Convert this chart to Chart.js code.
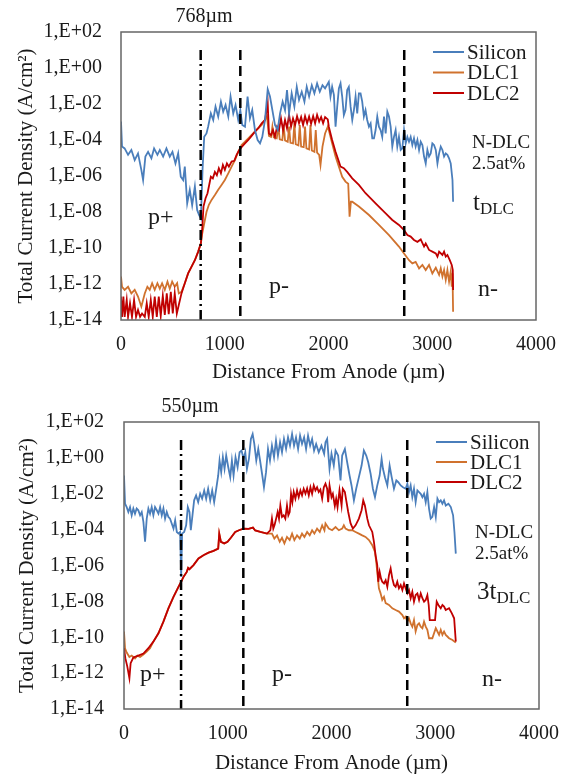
<!DOCTYPE html>
<html>
<head>
<meta charset="utf-8">
<script src="https://cdn.jsdelivr.net/npm/chart.js@4.4.1/dist/chart.umd.min.js"></script>
<style>
  html, body { margin: 0; padding: 0; background: #fff; }
  .panel { position: absolute; left: 0; width: 575px; }
  #topPanel { top: 0; height: 388px; }
  #bottomPanel { top: 390px; height: 387px; }
</style>
</head>
<body>
<div class="panel" id="topPanel"><canvas id="topChart" width="575" height="388"></canvas></div>
<div class="panel" id="bottomPanel"><canvas id="bottomChart" width="575" height="387"></canvas></div>
<script>
const FONT = "'Liberation Serif', 'Times New Roman', serif";

const xTicks = [0, 1000, 2000, 3000, 4000];
const yTicks = [1e2, 1e0, 1e-2, 1e-4, 1e-6, 1e-8, 1e-10, 1e-12, 1e-14];
const seriesNames = ['Silicon', 'DLC1', 'DLC2'];
const seriesColors = ['#4a7ebb', '#d0722e', '#c00000'];

// junction positions (µm): p+/p- (dash-dot), p- edge, n- edge
const topBoundaries = [768, 1150, 2730];
const bottomBoundaries = [550, 1150, 2730];

// [distance µm, current density A/cm2] — thickness t_DLC
const topSilicon = [
  [0,1.05e-3],[10,4.3e-5],[35,3.4e-5],[68,1.5e-5],[100,2.8e-5],[132,7.7e-6],[164,1.8e-5],[196,2.2e-6],[213,6e-7],[235,1.2e-5],
  [261,2.2e-5],[293,9.6e-6],[319,3.4e-5],[351,1.5e-5],[374,2.8e-5],[406,1.2e-5],[438,3.4e-5],[470,1.2e-5],[496,2.2e-5],[525,5e-6],
  [551,1.8e-5],[576,9.2e-7],[599,6e-7],[615,3.3e-6],[638,3e-8],[663,1.7e-7],[686,2.4e-8],[712,2.6e-7],[734,1.3e-8],[753,6.8e-9],
  [770,4.4e-9],[786,2.2e-6],[802,1.5e-4],[824,2.3e-4],[840,5.5e-4],[866,3e-3],[889,1.3e-3],[911,7.1e-3],[937,2e-3],[963,1.35e-2],
  [985,3.7e-3],[1008,8.8e-3],[1034,2e-3],[1056,2.6e-2],[1082,3e-3],[1104,8.8e-3],[1130,1.3e-3],[1150,4.6e-3],[1169,6.8e-4],[1195,5.5e-4],
  [1220,2.6e-2],[1243,1.6e-3],[1265,4.6e-3],[1291,3.6e-4],[1317,1e-4],[1340,6.5e-5],[1362,1.5e-4],[1388,1.3e-3],[1414,6.5e-2],[1436,2.6e-2],
  [1459,4.6e-3],[1484,6.8e-4],[1510,3.6e-4],[1533,3e-3],[1558,1.35e-2],[1581,4.6e-3],[1600,6e-2],[1620,3e-3],[1645,3.9e-2],[1671,7.1e-3],
  [1694,9e-2],[1716,1.7e-2],[1742,4.8e-2],[1768,1.35e-2],[1790,9e-2],[1813,2.6e-2],[1839,0.11],[1864,3.9e-2],[1890,0.14],[1916,4.8e-2],
  [1942,0.11],[1967,7.4e-2],[2003,0.17],[2019,2.6e-2],[2035,9e-2],[2052,3.2e-2],[2068,5.5e-4],[2084,7.1e-3],[2100,7.4e-2],[2116,0.14],
  [2132,2.6e-2],[2148,2.4e-3],[2164,4.6e-3],[2180,6e-2],[2196,9e-2],[2213,7.1e-3],[2229,1.3e-3],[2245,4.6e-3],[2261,2.6e-2],[2277,3e-3],
  [2293,3.9e-2],[2309,3.9e-2],[2325,1.35e-2],[2341,2e-3],[2357,4.6e-3],[2373,1.3e-3],[2390,5.5e-4],[2406,8.4e-4],[2422,1.24e-4],[2438,1.24e-4],
  [2454,3.6e-4],[2470,2e-3],[2486,5.5e-4],[2502,3.6e-4],[2518,1.5e-4],[2535,2e-3],[2551,2.3e-4],[2567,3.7e-3],[2583,2e-3],[2599,5.5e-4],
  [2615,4.3e-5],[2631,1.5e-4],[2647,3.6e-4],[2663,4.3e-5],[2679,1.5e-4],[2696,2.8e-5],[2712,3.4e-5],[2728,3.6e-4],[2744,6.5e-5],[2760,1.5e-4],
  [2776,8e-5],[2792,1.5e-4],[2808,5.3e-5],[2824,1.24e-4],[2840,4.3e-5],[2857,1e-4],[2873,2.8e-5],[2889,8e-5],[2905,5.3e-5],[2921,1.2e-5],
  [2937,5e-6],[2953,2.8e-5],[2969,1.2e-5],[2985,1.8e-5],[3001,6.5e-5],[3017,5.3e-5],[3034,2.8e-5],[3050,5e-6],[3066,1.8e-5],[3082,4.3e-5],
  [3098,2.8e-5],[3114,1.2e-5],[3130,1.8e-5],[3146,1.5e-5],[3162,9.6e-6],[3178,5e-6],[3195,6e-7],[3201,3.7e-8]
];

const topDlc1 = [
  [0,2.6e-12],[10,7e-13],[35,4.7e-13],[68,7e-13],[100,3e-13],[132,4.7e-13],[164,2e-13],[196,5.5e-14],[229,3e-13],[254,7e-13],
  [277,4.7e-13],[300,1.1e-12],[325,4.7e-13],[351,1.1e-12],[374,5.5e-13],[396,1.1e-12],[422,4.7e-13],[448,1.35e-12],[470,5.5e-13],[493,1.35e-12],
  [518,7e-13],[541,1.1e-12],[557,3e-13],[583,3.7e-13],[615,1.1e-12],[647,3.9e-12],[679,9e-12],[712,2.1e-11],[744,6.3e-11],[770,1.8e-10],
  [782,6e-10],[802,2.3e-9],[824,1e-8],[847,2.5e-8],[873,4.7e-8],[905,8.7e-8],[937,1.7e-7],[969,3.2e-7],[1001,6e-7],[1034,1.4e-6],
  [1066,3.3e-6],[1098,7.7e-6],[1130,2.2e-5],[1162,5.3e-5],[1195,8e-5],[1227,1.24e-4],[1259,1.9e-4],[1291,2.9e-4],[1323,4.5e-4],[1356,6.8e-4],
  [1388,1.3e-3],[1407,2.1e-3],[1426,1.7e-4],[1446,1.5e-4],[1459,5.5e-4],[1472,1.4e-4],[1501,1.24e-4],[1517,5.5e-4],[1530,1.1e-4],[1555,1e-4],
  [1568,6.8e-4],[1581,9.5e-5],[1607,8e-5],[1620,5.5e-4],[1633,7e-5],[1658,6.5e-5],[1671,8.5e-4],[1684,5.8e-5],[1710,5e-5],[1723,6.8e-4],
  [1736,4.3e-5],[1761,4e-5],[1774,5.5e-4],[1787,3.4e-5],[1813,3e-5],[1826,6.8e-4],[1839,2.6e-5],[1864,2.2e-5],[1877,3.6e-4],[1890,2e-5],
  [1910,1.5e-5],[1923,4.1e-6],[1942,4.3e-5],[1967,2.3e-4],[1993,5.5e-4],[2003,3.6e-4],[2035,6.5e-5],[2068,1.2e-5],[2100,3.3e-6],[2132,9.1e-7],
  [2164,4.9e-7],[2190,3.7e-7],[2203,5.5e-9],[2216,3.7e-8],[2229,3.7e-8],[2293,2e-8],[2390,6.8e-9],[2486,1.9e-9],[2583,5.2e-10],[2679,1.2e-10],
  [2728,5e-11],[2776,2.1e-11],[2808,1.4e-11],[2840,1.7e-11],[2873,7.4e-12],[2905,1.15e-11],[2937,6e-12],[2969,1.15e-11],[3001,3.9e-12],[3034,8e-12],
  [3066,3.2e-12],[3082,7.4e-12],[3098,2.6e-12],[3114,6e-12],[3130,1.7e-12],[3146,6e-12],[3162,1.35e-12],[3178,4.9e-12],[3188,7e-13],[3195,3.9e-12],
  [3201,2.9e-14]
];

const topDlc2 = [
  [0,2e-13],[10,1.5e-14],[23,2e-13],[35,1.5e-14],[55,1.3e-13],[68,1.5e-14],[87,8.5e-14],[106,1.5e-14],[126,1.3e-13],[145,1.5e-14],
  [164,3.6e-14],[184,1.5e-14],[203,2.3e-14],[229,1.5e-14],[248,8.5e-14],[267,1.5e-14],[287,1.3e-13],[306,1.5e-14],[325,2e-13],[345,1.5e-14],
  [364,2e-13],[383,1.7e-14],[403,2.2e-13],[422,1.9e-14],[441,3e-13],[460,2.1e-14],[480,3.7e-13],[499,2.3e-14],[518,3e-13],[538,2.3e-14],
  [557,6.8e-14],[583,3e-13],[615,1.1e-12],[647,3.9e-12],[679,9e-12],[712,2.1e-11],[744,6.3e-11],[770,1.8e-10],[782,1e-9],[795,2e-8],
  [815,5.8e-8],[834,1.1e-7],[847,2.6e-7],[866,9.1e-7],[885,7.4e-7],[905,1.7e-6],[924,1.1e-6],[943,2.7e-6],[963,1.4e-6],[982,4.1e-6],
  [1001,2.2e-6],[1021,5e-6],[1040,3.3e-6],[1066,6.3e-6],[1092,7e-6],[1114,1.5e-5],[1137,2.6e-5],[1162,4e-5],[1195,6.5e-5],[1227,1e-4],
  [1259,1.7e-4],[1291,2.9e-4],[1323,4.5e-4],[1356,8.5e-4],[1388,1.3e-3],[1414,1.1e-2],[1426,2.3e-4],[1446,1.9e-4],[1465,3.6e-4],[1484,1.5e-4],
  [1504,5.5e-4],[1523,3.6e-4],[1542,1.6e-3],[1562,3.6e-4],[1581,1.3e-3],[1600,4.5e-4],[1620,2.5e-3],[1639,5.5e-4],[1658,1.6e-3],[1678,6.8e-4],
  [1697,2.1e-3],[1716,8.5e-4],[1736,1.9e-3],[1755,6.8e-4],[1774,2.1e-3],[1794,8.5e-4],[1813,2e-3],[1832,8e-4],[1852,2.1e-3],[1871,8.5e-4],
  [1890,2.5e-3],[1910,1.05e-3],[1929,1.9e-3],[1948,8.5e-4],[1967,1.9e-3],[1993,1.4e-3],[2003,5.5e-4],[2035,1e-4],[2068,2.2e-5],[2100,6.3e-6],
  [2116,3.3e-6],[2148,2.7e-6],[2180,1.7e-6],[2229,7.4e-7],[2293,3.2e-7],[2357,1.1e-7],[2454,3e-8],[2551,8.5e-9],[2615,3.6e-9],[2679,1.9e-9],
  [2728,1e-9],[2760,5.2e-10],[2792,4.3e-10],[2824,2.8e-10],[2857,2.2e-10],[2889,3e-10],[2921,1.2e-10],[2937,1.8e-10],[2969,7.8e-11],[3001,6.3e-11],
  [3034,5e-11],[3050,3.3e-11],[3066,6.3e-11],[3098,4.1e-11],[3114,6.3e-11],[3130,3.3e-11],[3146,4.1e-11],[3169,2.1e-11],[3188,1.15e-11],[3198,6e-12],
  [3201,4.7e-13]
];

// thickness 3 t_DLC
const bottomSilicon = [
  [0,0.104],[10,2.8e-3],[26,1.8e-3],[42,9.6e-4],[58,1.8e-3],[74,6.3e-4],[90,1.5e-3],[106,7.7e-4],[122,1.5e-3],[138,1.2e-3],
  [155,6.3e-4],[171,9.6e-4],[187,2.7e-4],[203,2.1e-5],[219,4.1e-4],[235,1.5e-3],[251,7.7e-4],[267,1.8e-3],[283,6.3e-4],[299,1.8e-3],
  [316,1.2e-3],[332,7.7e-4],[348,1.8e-3],[364,6.3e-4],[380,1.5e-3],[396,4.1e-4],[412,9.6e-4],[428,5.1e-4],[444,4.1e-4],[460,2.2e-4],
  [477,1.14e-4],[493,3.3e-4],[509,7.4e-5],[525,6e-5],[541,7.4e-5],[551,2.3e-7],[560,6e-5],[580,7.4e-5],[599,1.74e-4],[615,1.8e-3],
  [631,9.6e-4],[644,9.2e-5],[660,6.3e-4],[676,4.3e-3],[695,8.1e-3],[715,3.4e-3],[734,1e-2],[753,5.3e-3],[773,1.53e-2],[792,5.3e-3],
  [811,1.9e-2],[831,4.3e-3],[850,1.53e-2],[869,3.4e-3],[889,1.9e-2],[908,0.104],[921,0.71],[937,0.16],[953,1.09],[969,0.245],
  [985,1.35],[1005,0.3],[1024,8.4e-2],[1040,0.71],[1056,0.104],[1075,1.09],[1095,0.3],[1114,2.06],[1133,2.55],[1153,0.88],
  [1169,2.06],[1185,0.245],[1204,0.88],[1223,11.4],[1240,21.5],[1256,6],[1275,0.71],[1294,3.16],[1314,0.57],[1333,0.104],
  [1349,2.3e-2],[1369,0.16],[1388,3.16],[1407,0.71],[1426,4.8],[1446,1.09],[1465,9.2],[1484,1.35],[1504,7.4],[1523,2.06],
  [1542,11.4],[1562,3.16],[1581,14],[1600,4.8],[1620,21.5],[1639,4.8],[1658,14],[1678,3.16],[1697,17.4],[1716,6],
  [1736,14],[1755,3.16],[1774,17.4],[1794,4.8],[1813,11.4],[1832,2.55],[1852,6],[1877,2.06],[1903,4.8],[1929,1.67],
  [1942,7.4],[1958,11.4],[1981,0.245],[2000,1.67],[2022,0.375],[2039,2.55],[2064,1.35],[2087,5.5e-2],[2103,1.35],[2129,3.16],
  [2151,0.57],[2174,0.104],[2193,2.9e-2],[2216,4.3e-3],[2238,1.9e-2],[2264,8.4e-2],[2290,0.375],[2312,2.55],[2335,1.35],[2354,0.57],
  [2377,0.13],[2399,1.9e-2],[2419,6.5e-3],[2441,2.9e-2],[2464,0.104],[2483,0.88],[2496,0.245],[2515,8.4e-2],[2538,2.9e-2],[2560,0.375],
  [2580,8.4e-2],[2602,1.9e-2],[2625,5.5e-2],[2644,4.4e-2],[2667,2.9e-2],[2689,2.3e-2],[2715,1.9e-2],[2731,3.6e-2],[2747,1.24e-2],[2763,2.9e-2],
  [2779,6.5e-3],[2795,1.9e-2],[2811,3.4e-3],[2828,1.53e-2],[2844,1.24e-2],[2860,1e-2],[2876,6.5e-3],[2892,1e-2],[2908,3.4e-3],[2924,1.24e-2],
  [2940,1.5e-3],[2956,4.1e-4],[2972,5.1e-4],[2989,1.8e-3],[3005,5.1e-4],[3021,5.3e-3],[3037,3.4e-3],[3053,4.3e-3],[3069,2.8e-3],[3085,4.3e-3],
  [3101,2.2e-3],[3127,2.8e-3],[3150,1.8e-3],[3172,6.3e-4],[3185,7.4e-5],[3198,4.6e-6]
];

const bottomDlc1 = [
  [0,2.1e-10],[10,2.45e-11],[26,1.4e-11],[52,8e-12],[74,9.5e-12],[106,6.5e-12],[129,9.5e-12],[155,8e-12],[187,1.1e-11],[219,1.6e-11],
  [251,2.45e-11],[283,5.7e-11],[332,1.66e-10],[380,7.4e-10],[428,4.1e-9],[477,1.8e-8],[525,6.5e-8],[551,1.24e-7],[573,2.3e-7],[605,4.4e-7],
  [618,7.4e-7],[631,6.2e-7],[670,1.05e-6],[718,2.45e-6],[766,3.7e-6],[815,5.2e-6],[863,6.6e-6],[908,8.8e-6],[918,6e-5],[934,2.1e-5],
  [966,1.7e-5],[998,2.1e-5],[1030,3.5e-5],[1072,7.4e-5],[1114,9.5e-5],[1153,1.14e-4],[1201,1.1e-4],[1243,1.3e-4],[1265,9e-5],[1314,7.4e-5],
  [1378,6e-5],[1394,6e-5],[1426,6e-5],[1449,3.2e-5],[1475,4.8e-5],[1501,2.1e-5],[1523,3.5e-5],[1546,1.7e-5],[1571,3.9e-5],[1597,2.6e-5],
  [1620,6e-5],[1642,2.6e-5],[1668,4.8e-5],[1694,3.2e-5],[1716,6e-5],[1739,3.9e-5],[1765,7.4e-5],[1790,4.8e-5],[1813,9.2e-5],[1835,6e-5],
  [1861,1.14e-4],[1887,7.4e-5],[1910,1.74e-4],[1932,9.2e-5],[1942,2.2e-4],[1974,1.14e-4],[2006,9.2e-5],[2039,1.4e-4],[2071,9.2e-5],[2103,1.14e-4],
  [2119,1.74e-4],[2135,1.14e-4],[2167,9.2e-5],[2200,9.2e-5],[2232,7.4e-5],[2264,6e-5],[2296,4.8e-5],[2328,3.9e-5],[2361,2.6e-5],[2393,1.35e-5],
  [2419,5.7e-6],[2431,1.6e-6],[2444,2.9e-7],[2457,5.3e-8],[2473,2.8e-8],[2489,1.2e-8],[2506,1.8e-8],[2522,8e-9],[2554,6.3e-9],[2586,4.1e-9],
  [2618,3.3e-9],[2650,2.7e-9],[2683,1.74e-9],[2699,1.14e-9],[2715,1.4e-9],[2731,7.4e-10],[2747,1.14e-9],[2763,6e-10],[2779,3.9e-10],[2795,9.1e-10],
  [2811,2.1e-10],[2828,4.8e-10],[2844,6e-10],[2860,3.9e-10],[2876,3.2e-10],[2892,7.4e-10],[2908,3.9e-10],[2924,2.6e-10],[2940,8.8e-11],[2972,8.8e-11],
  [3005,3.2e-10],[3021,2.1e-10],[3037,1.35e-10],[3053,2.6e-10],[3069,1.35e-10],[3085,2.1e-10],[3101,1.35e-10],[3117,1.1e-10],[3133,8.8e-11],[3166,7e-11],
  [3198,5e-11]
];

const bottomDlc2 = [
  [0,2.45e-11],[13,6.8e-12],[32,2.3e-12],[52,5.3e-13],[64,3.6e-12],[90,7.4e-12],[138,9.5e-12],[187,1.24e-11],[235,2.45e-11],[283,5.7e-11],
  [332,1.66e-10],[380,7.4e-10],[428,4.1e-9],[477,1.8e-8],[525,6.5e-8],[551,1.24e-7],[573,2.3e-7],[605,4.4e-7],[618,7.4e-7],[631,6.2e-7],
  [670,1.05e-6],[718,2.45e-6],[766,3.7e-6],[815,5.2e-6],[863,6.6e-6],[908,8.8e-6],[918,6e-5],[934,2.1e-5],[966,1.7e-5],[998,2.1e-5],
  [1030,3.5e-5],[1072,7.4e-5],[1114,9.5e-5],[1153,1.14e-4],[1201,1.1e-4],[1243,1.3e-4],[1265,9e-5],[1314,7.4e-5],[1378,6e-5],[1410,9.2e-5],
  [1426,4.1e-4],[1439,1.14e-4],[1452,1.9e-4],[1468,4.5e-4],[1481,9.6e-4],[1494,4.1e-4],[1507,2.2e-3],[1523,5.1e-4],[1539,6.3e-4],[1555,4.1e-4],
  [1571,2.2e-3],[1584,6.3e-4],[1597,9.6e-4],[1610,1e-2],[1623,3.4e-3],[1636,1.24e-2],[1652,5.3e-3],[1668,1.53e-2],[1684,6.5e-3],[1700,1.53e-2],
  [1716,8.1e-3],[1732,1.9e-2],[1749,1e-2],[1765,2e-2],[1781,8.1e-3],[1797,2.3e-2],[1813,1e-2],[1829,2.9e-2],[1845,1.53e-2],[1861,2.3e-2],
  [1877,1.24e-2],[1893,1.7e-2],[1910,5.3e-3],[1926,2.3e-2],[1942,3.6e-2],[1958,1.9e-2],[1968,3.4e-3],[1981,2.9e-2],[2000,6.5e-3],[2013,1e-2],
  [2032,2.1e-3],[2045,5.3e-3],[2058,1.8e-3],[2077,1.53e-2],[2097,2.2e-3],[2109,1.9e-2],[2129,1.24e-2],[2142,4.3e-3],[2161,9.6e-4],[2184,2.2e-4],
  [2206,1.14e-4],[2232,1.74e-4],[2264,4.1e-4],[2290,1.2e-3],[2306,4.3e-3],[2322,2.2e-3],[2345,4.1e-4],[2361,1.74e-4],[2393,7.4e-5],[2409,2.1e-5],
  [2425,3.7e-6],[2441,1.05e-6],[2451,1.24e-7],[2464,4.4e-7],[2477,1.9e-7],[2489,1.24e-7],[2506,1e-7],[2522,1.5e-7],[2538,6.5e-8],[2554,2.9e-7],
  [2570,6.8e-7],[2586,1.9e-7],[2602,8.1e-8],[2618,6.5e-8],[2634,1.24e-7],[2650,5.3e-8],[2667,8.1e-8],[2683,4.3e-8],[2699,1e-7],[2715,5.3e-8],
  [2731,2.8e-8],[2747,4.3e-8],[2763,1.5e-8],[2779,3.4e-8],[2795,9.6e-9],[2811,2.25e-8],[2828,2.8e-8],[2844,1.2e-8],[2860,2.8e-8],[2876,1.5e-8],
  [2892,9.6e-9],[2908,1.2e-8],[2924,2.25e-8],[2937,6.3e-9],[2947,9.1e-10],[2998,9.1e-10],[3014,9.6e-9],[3030,6.3e-9],[3053,4.1e-9],[3069,6.3e-9],
  [3085,5.1e-9],[3101,3.3e-9],[3133,4.1e-9],[3159,2.2e-9],[3182,1.14e-9],[3198,5.7e-11]
];

function sciLabel(v) {
  const e = Math.round(Math.log10(v));
  return '1,E' + (e < 0 ? '-' : '+') + String(Math.abs(e)).padStart(2, '0');
}

const toPoints = pairs => pairs.map(([x, y]) => ({ x, y }));

function boundaryLine(x, dash) {
  return {
    data: [{ x, y: 10 }, { x, y: 1e-14 }],
    borderColor: '#000', borderWidth: 2.5, borderDash: dash,
    pointRadius: 0, order: 0
  };
}

// plot frame drawn over the curves
const framePlugin = {
  id: 'frame',
  afterDatasetsDraw(chart) {
    const { ctx, chartArea: a } = chart;
    ctx.save();
    ctx.strokeStyle = '#666';
    ctx.lineWidth = 1.5;
    ctx.strokeRect(a.left, a.top, a.right - a.left, a.bottom - a.top);
    ctx.restore();
  }
};

// region labels, notes and the legend block
function notesPlugin(spec) {
  return {
    id: 'notes',
    afterDraw(chart) {
      const ctx = chart.ctx;
      ctx.save();
      ctx.fillStyle = '#1a1a1a';
      ctx.textBaseline = 'middle';
      spec.labels.forEach(l => {
        ctx.font = `${l.size}px ${FONT}`;
        ctx.textAlign = l.align || 'left';
        ctx.fillText(l.text, l.x, l.y);
        if (l.sub) {
          const w = ctx.measureText(l.text).width;
          ctx.font = `${l.sub.size}px ${FONT}`;
          ctx.textAlign = 'left';
          ctx.fillText(l.sub.text, l.x + w, l.y + l.sub.dy);
        }
      });
      const lg = spec.legend;
      seriesNames.forEach((name, i) => {
        const y = lg.y + i * lg.row;
        ctx.strokeStyle = seriesColors[i];
        ctx.lineWidth = 2;
        ctx.beginPath();
        ctx.moveTo(lg.x, y);
        ctx.lineTo(lg.x + 31, y);
        ctx.stroke();
        ctx.font = `21px ${FONT}`;
        ctx.textAlign = 'left';
        ctx.fillText(name, lg.x + 34, y + 1);
      });
      ctx.restore();
    }
  };
}

function makeChart(id, cfg) {
  const series = [cfg.silicon, cfg.dlc1, cfg.dlc2].map((s, i) => ({
    label: seriesNames[i],
    data: toPoints(s),
    borderColor: seriesColors[i],
    borderWidth: 1.8,
    pointRadius: 0,
    tension: 0,
    order: [1, 3, 2][i]
  }));
  const lines = cfg.boundaries.map((x, i) => boundaryLine(x, i === 0 ? [10, 4, 2, 4] : [10, 6]));
  return new Chart(document.getElementById(id), {
    type: 'line',
    data: { datasets: [...lines, ...series] },
    options: {
      responsive: false,
      animation: false,
      events: [],
      layout: { padding: { left: 0, top: 32, right: cfg.right, bottom: 0 } },
      plugins: { legend: { display: false }, tooltip: { enabled: false } },
      scales: {
        x: {
          type: 'linear', min: 0, max: 4000,
          grid: { display: false, drawTicks: false },
          border: { display: false },
          afterBuildTicks: s => { s.ticks = xTicks.map(v => ({ value: v })); },
          ticks: { font: { family: FONT, size: 20 }, color: '#1a1a1a', padding: 13, maxRotation: 0, callback: v => String(v) },
          title: {
            display: true, text: 'Distance From Anode (µm)', color: '#1a1a1a',
            font: { family: FONT, size: 21 }, padding: { top: 0, bottom: cfg.xTitlePad }
          },
          afterFit: s => { s.height = 68; }
        },
        y: {
          type: 'logarithmic', min: 1e-14, max: 1e2,
          grid: { display: false, drawTicks: false },
          border: { display: false },
          afterBuildTicks: s => { s.ticks = yTicks.map(v => ({ value: v })); },
          ticks: { font: { family: FONT, size: 20 }, color: '#1a1a1a', padding: cfg.yTickPad, callback: v => sciLabel(v) },
          title: {
            display: true, text: 'Total Current Density (A/cm²)', color: '#1a1a1a',
            font: { family: FONT, size: 21 }, padding: { top: cfg.yTitlePad, bottom: 0 }
          },
          afterFit: s => { s.width = cfg.left; }
        }
      }
    },
    plugins: [framePlugin, notesPlugin(cfg.notes)]
  });
}

makeChart('topChart', {
  silicon: topSilicon, dlc1: topDlc1, dlc2: topDlc2, boundaries: topBoundaries,
  left: 121, right: 39, yTickPad: 19, yTitlePad: 14, xTitlePad: 3,
  notes: {
    legend: { x: 433, y: 52, row: 20.5 },
    labels: [
      { text: '768µm', x: 204, y: 17, size: 20, align: 'center' },
      { text: 'N-DLC', x: 472, y: 143, size: 19 },
      { text: '2.5at%', x: 472, y: 164, size: 19 },
      { text: 't', x: 473, y: 203, size: 25, sub: { text: 'DLC', size: 17, dy: 7 } },
      { text: 'p+', x: 148, y: 218, size: 24 },
      { text: 'p-', x: 269, y: 287, size: 24 },
      { text: 'n-', x: 478, y: 290, size: 24 }
    ]
  }
});

makeChart('bottomChart', {
  silicon: bottomSilicon, dlc1: bottomDlc1, dlc2: bottomDlc2, boundaries: bottomBoundaries,
  left: 124, right: 36, yTickPad: 20, yTitlePad: 15, xTitlePad: 1,
  notes: {
    legend: { x: 436, y: 52, row: 20 },
    labels: [
      { text: '550µm', x: 190, y: 17, size: 20, align: 'center' },
      { text: 'N-DLC', x: 475, y: 143, size: 19 },
      { text: '2.5at%', x: 475, y: 164, size: 19 },
      { text: '3t', x: 477, y: 202, size: 25, sub: { text: 'DLC', size: 17, dy: 7 } },
      { text: 'p+', x: 140, y: 285, size: 24 },
      { text: 'p-', x: 272, y: 285, size: 24 },
      { text: 'n-', x: 482, y: 290, size: 24 }
    ]
  }
});
</script>
</body>
</html>
